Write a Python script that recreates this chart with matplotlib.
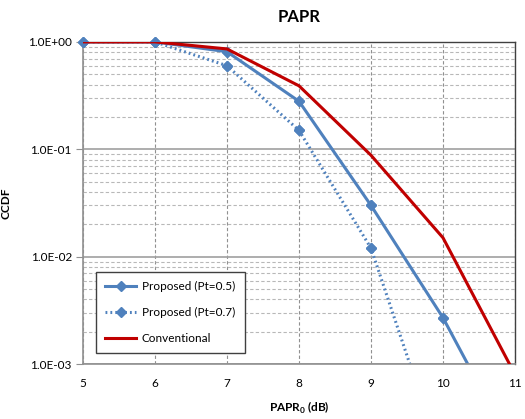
import matplotlib.pyplot as plt
from matplotlib.ticker import LogLocator, NullFormatter
import numpy as np

plt.rcParams['font.family'] = ['Lato', 'DejaVu Sans']

papr_db = [5, 6, 7, 8, 9, 10, 11]
ccdf_pt05 = [1.0, 1.0, 0.81, 0.28, 0.030, 0.0027, 0.00015]
ccdf_pt07 = [1.0, 1.0, 0.60, 0.15, 0.012, 0.00012, 0.00001]
ccdf_conv = [1.0, 1.0, 0.86, 0.39, 0.088, 0.015, 0.0008]

y_ticks = [1e0, 1e-1, 1e-2, 1e-3]
y_labels = ["1.0E+00", "1.0E-01", "1.0E-02", "1.0E-03"]

blue = "#4F81BD"
red = "#C00000"

fig = plt.figure(figsize=(5.25, 4.19), dpi=100)
ax = fig.add_axes([0.158, 0.131, 0.823, 0.769])

x = np.array(papr_db)
for vals, ls, lab in [(ccdf_pt05, "-", "Proposed (Pt=0.5)"),
                      (ccdf_pt07, (0, (0.6, 1.0)), "Proposed (Pt=0.7)")]:
    v = np.array(vals)
    ax.plot(x, v, color=blue, lw=2.2, ls=ls, marker="D", ms=5.5, label=lab)
    # markers on the frame edge should not be cut in half
    keep = v >= 1e-3
    ax.plot(x[keep], v[keep], ls="none", marker="D", ms=5.5, color=blue,
            clip_on=False, zorder=3)
ax.plot(papr_db, ccdf_conv, color=red, lw=2.2, label="Conventional", zorder=4)

ax.set_yscale("log")
ax.set_xlim(5, 11)
ax.set_ylim(1e-3, 1e0)
ax.set_xticks(papr_db)
ax.set_yticks(y_ticks)
ax.set_yticklabels(y_labels)
ax.yaxis.set_minor_locator(LogLocator(base=10, subs=np.arange(2, 10)))
ax.yaxis.set_minor_formatter(NullFormatter())

ax.grid(True, which="major", axis="y", color="#A0A0A0", lw=1.2, ls="-")
ax.grid(True, which="minor", axis="y", color="#B8B8B8", lw=0.8, ls=(0, (3, 2)))
ax.grid(True, which="major", axis="x", color="#909090", lw=0.8, ls=(0, (3, 2)))
ax.set_axisbelow(True)

for side in ["left", "bottom"]:
    ax.spines[side].set_color("#909090")
    ax.spines[side].set_linewidth(1.2)
for side in ["top", "right"]:
    ax.spines[side].set_color("#404040")
    ax.spines[side].set_linewidth(1.0)

ax.tick_params(axis="y", which="major", length=5, color="#909090", labelsize=8.5, pad=3)
ax.tick_params(axis="y", which="minor", length=0)
ax.tick_params(axis="x", length=0, labelsize=8.5, pad=10)

ax.set_title("PAPR", fontsize=12, fontweight="bold", pad=14)
ax.set_ylabel("CCDF", fontsize=8.5, fontweight="bold", labelpad=12)
ax.set_xlabel("PAPR$_\\mathregular{0}$ (dB)", fontsize=8.5, fontweight="bold", labelpad=8)

leg = ax.legend(loc="lower left", bbox_to_anchor=(0.03, 0.034), borderaxespad=0,
                fontsize=8.5, fancybox=False, framealpha=1, edgecolor="#404040",
                borderpad=0.8, labelspacing=1.25, handlelength=2.6,
                handletextpad=0.5, markerscale=0.9)
leg.get_frame().set_linewidth(1.0)

fig.savefig("out.png", dpi=100)
